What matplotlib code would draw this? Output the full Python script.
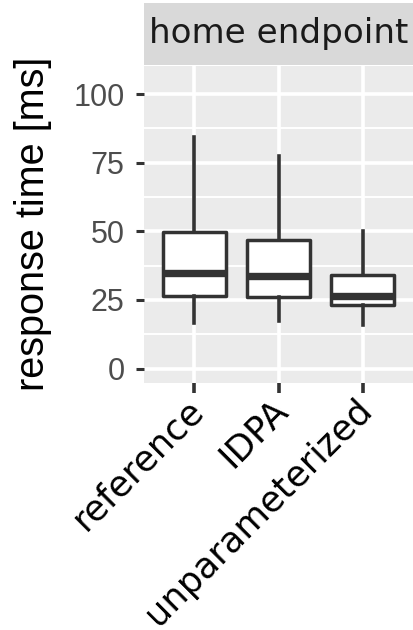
import matplotlib
matplotlib.use("Agg")
import matplotlib.pyplot as plt
from matplotlib.ticker import MultipleLocator
from matplotlib.transforms import ScaledTranslation

# data (ms)
categories = ["reference", "IDPA", "unparameterized"]
whislo = [16.6, 17.2, 16.0]
q1 = [26.5, 26.0, 23.2]
med = [34.9, 33.7, 26.5]
q3 = [49.8, 46.8, 34.1]
whishi = [84.5, 77.3, 50.2]
y_ticks = [0, 25, 50, 75, 100]
facet_title = "home endpoint"

W, H = 413, 630
fig = plt.figure(figsize=(W / 100, H / 100), dpi=100)
fig.patch.set_facecolor("white")

# panel from x 144..413, y 66..383 (pixels, top origin)
ax = fig.add_axes([144 / W, 1 - 383 / H, (413 - 144) / W, (383 - 66) / H])
ax.set_facecolor("#EBEBEB")
for s in ax.spines.values():
    s.set_visible(False)

stats = []
for i, c in enumerate(categories):
    stats.append(dict(label=c, whislo=whislo[i], q1=q1[i], med=med[i],
                      q3=q3[i], whishi=whishi[i], fliers=[]))

pos = list(range(1, len(categories) + 1))
ax.bxp(stats, positions=pos, widths=0.75, patch_artist=True, showcaps=False,
       boxprops=dict(facecolor="white", edgecolor="#333333", linewidth=2.5,
                     joinstyle="round"),
       whiskerprops=dict(color="#333333", linewidth=2.6),
       medianprops=dict(color="#333333", linewidth=5.3, solid_capstyle="butt"),
       zorder=3)

ax.set_xlim(0.4, len(categories) + 0.6)
ax.set_ylim(-5.25, 110.25)

ax.set_yticks(y_ticks)
ax.yaxis.set_minor_locator(MultipleLocator(12.5))
ax.set_xticks(pos)
ax.grid(which="major", color="white", linewidth=2.6, zorder=0)
ax.grid(which="minor", axis="y", color="white", linewidth=1.4, zorder=0)
ax.set_axisbelow(True)

ax.tick_params(axis="y", which="major", length=6, width=2.2, color="#333333",
               pad=8, labelsize=22, labelcolor="#4D4D4D")
ax.tick_params(axis="y", which="minor", length=0)
ax.tick_params(axis="x", length=7, width=2.6, color="#333333", pad=0)
for lab in ax.get_yticklabels():
    lab.set_fontfamily("Liberation Sans")

ax.set_xticklabels(categories, rotation=45, ha="right", va="top",
                   rotation_mode="anchor", fontsize=25.5, color="black",
                   family="DejaVu Sans")
shift = ScaledTranslation(-8 / 100, 0, fig.dpi_scale_trans)
for lab in ax.get_xticklabels():
    lab.set_transform(lab.get_transform() + shift)

# facet strip
strip = fig.add_axes([144 / W, 1 - 65 / H, (413 - 144) / W, (65 - 3) / H])
strip.set_facecolor("#D9D9D9")
strip.set_xticks([])
strip.set_yticks([])
for s in strip.spines.values():
    s.set_visible(False)
strip.text(0.5, 0.5, facet_title, ha="center", va="center", fontsize=24.6,
           color="#1A1A1A", family="DejaVu Sans", transform=strip.transAxes)

fig.text(33 / W, 1 - 224 / H, "response time [ms]", rotation=90, ha="center",
         va="center", fontsize=28.5, family="Liberation Sans", color="black")

fig.savefig("out.png", dpi=100)
